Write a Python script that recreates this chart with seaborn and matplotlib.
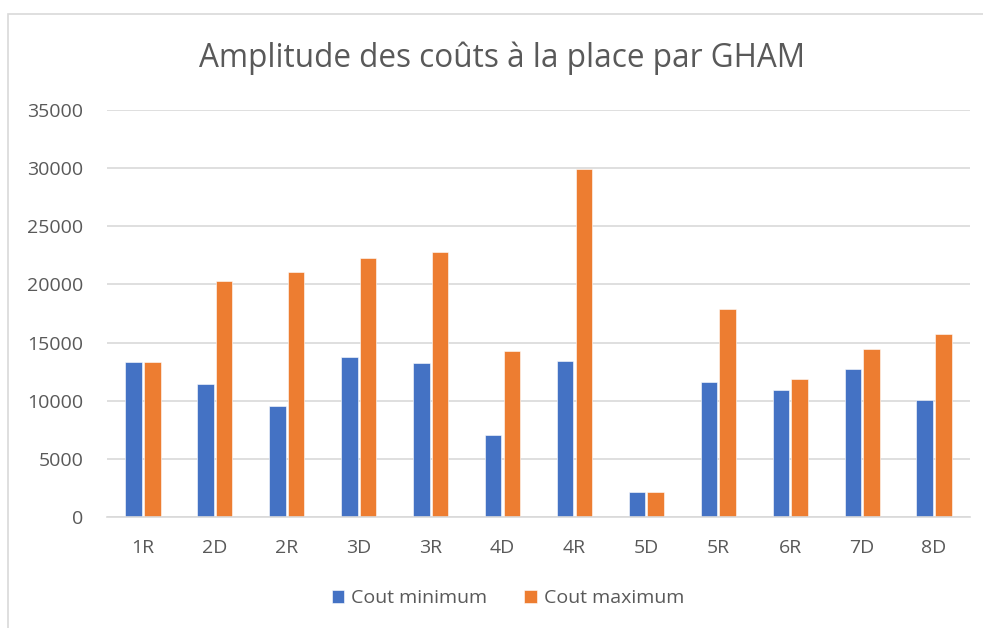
import matplotlib
matplotlib.use("Agg")
import matplotlib.pyplot as plt
import seaborn as sns
import pandas as pd
from matplotlib.patches import Rectangle

categories = ["1R", "2D", "2R", "3D", "3R", "4D", "4R", "5D", "5R", "6R", "7D", "8D"]
cout_minimum = [13300, 11400, 9520, 13740, 13230, 7060, 13400, 2170, 11640, 10950, 12730, 10100]
cout_maximum = [13300, 20280, 21080, 22290, 22780, 14260, 29950, 2170, 17900, 11850, 14430, 15720]
series_names = ["Cout minimum", "Cout maximum"]
yticks = [0, 5000, 10000, 15000, 20000, 25000, 30000, 35000]
title = "Amplitude des coûts à la place par GHAM"

df = pd.DataFrame({
    "cat": categories * 2,
    "val": cout_minimum + cout_maximum,
    "serie": [series_names[0]] * len(categories) + [series_names[1]] * len(categories),
})

sns.set_theme(style="white")
plt.rcParams["font.family"] = ["Open Sans", "DejaVu Sans"]
txt = "#595959"
grid = "#D9D9D9"

fig = plt.figure(figsize=(9.83, 6.28), dpi=100)
W, H = 983, 628
ax = fig.add_axes([107 / W, 1 - 517 / H, (970 - 107) / W, (517 - 110) / H])

sns.barplot(data=df, x="cat", y="val", hue="serie", order=categories,
            hue_order=series_names, palette=["#4472C4", "#ED7D31"],
            width=0.52, gap=0.12, ax=ax, legend=True, saturation=1,
            edgecolor="white", linewidth=0.4)

ax.set_ylim(0, 35000)
ax.set_xlim(-0.5, len(categories) - 0.5)
ax.set_yticks(yticks)
ax.set_yticklabels([str(v) for v in yticks])
ax.yaxis.grid(True, color=grid, linewidth=1.2)
ax.set_axisbelow(True)
for s in ["top", "right", "left"]:
    ax.spines[s].set_visible(False)
ax.spines["bottom"].set_color(grid)
ax.spines["bottom"].set_linewidth(1.2)
ax.tick_params(axis="both", length=0, labelsize=14, colors=txt)
ax.tick_params(axis="y", pad=17)
ax.tick_params(axis="x", pad=16)
ax.set_xlabel("")
ax.set_ylabel("")

handles, labels = ax.get_legend_handles_labels()
ax.legend_.remove()
fig.legend(handles, labels, loc="center", bbox_to_anchor=(508 / W, 1 - 598 / H),
           ncol=2, frameon=False, fontsize=14, labelcolor=txt,
           handlelength=0.65, handleheight=0.65, handletextpad=0.35, columnspacing=1.9)

fig.text(502 / W, 1 - 58 / H, title, ha="center", va="center", fontsize=22.7, color=txt)

fig.patches.append(Rectangle((8 / W, -0.01), 1.0, 1 - 14 / H + 0.01, transform=fig.transFigure,
                             fill=False, edgecolor=grid, linewidth=1.2))

fig.savefig("out.png", dpi=100, facecolor="white")
